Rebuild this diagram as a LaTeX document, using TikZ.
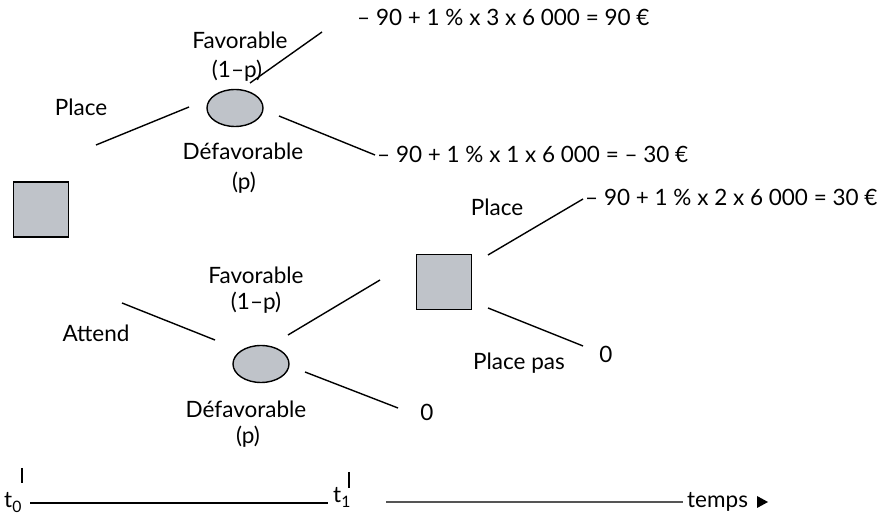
\documentclass[tikz,border=0pt]{standalone}
\usepackage{fontspec}
\setmainfont{Lato}
\definecolor{nodefill}{HTML}{BFC3C9}
\definecolor{axisgray}{HTML}{555555}
\tikzset{
  lbl/.style={font=\fontsize{22.5}{25}\selectfont, inner sep=0pt, anchor=base},
  lblw/.style={lbl, anchor=base west},
  branch/.style={line width=1.4pt, black},
  chance/.style={ellipse, draw=black, line width=1.4pt, fill=nodefill, minimum width=56pt, minimum height=37pt, inner sep=0pt},
  decision/.style={rectangle, draw=black, line width=1.6pt, fill=nodefill, minimum width=55pt, minimum height=55pt, inner sep=0pt},
}
\usetikzlibrary{shapes.geometric}
\begin{document}
\begin{tikzpicture}[x=1pt, y=-1pt]
\useasboundingbox (0,0) rectangle (887,518);
% decision and chance nodes
\node[decision] (S1) at (41,209.5) {};
\node[decision] (S2) at (444,282) {};
\node[chance] (E1) at (235,108) {};
\node[chance] (E2) at (261,364) {};
% branch end points
\coordinate (a1) at (96,145);   \coordinate (a2) at (189,107);
\coordinate (b1) at (250,83);   \coordinate (b2) at (322,32);
\coordinate (c1) at (279,116);  \coordinate (c2) at (375,155);
\coordinate (d1) at (122,303);  \coordinate (d2) at (215,340);
\coordinate (e1) at (288,335);  \coordinate (e2) at (380,280);
\coordinate (f1) at (305,372);  \coordinate (f2) at (398,408);
\coordinate (g1) at (488,255);  \coordinate (g2) at (583,199);
\coordinate (h1) at (488,308);  \coordinate (h2) at (583,346);
\draw[branch] (a1) -- (a2);
\draw[branch] (b1) -- (b2);
\draw[branch] (c1) -- (c2);
\draw[branch] (d1) -- (d2);
\draw[branch] (e1) -- (e2);
\draw[branch] (f1) -- (f2);
\draw[branch] (g1) -- (g2);
\draw[branch] (h1) -- (h2);
% labels
\node[lblw] (eq1) at (357,26) {– 90 + 1 \% x 3 x 6 000 = 90 €};
\node[lbl] (fav1) at (240,49) {Favorable};
\node[lbl] (fav1p) at (237,78) {(1–p)};
\node[lbl] (place1) at (81,116) {Place};
\node[lbl] (def1) at (243,160) {Défavorable};
\node[lbl] (def1p) at (244,190) {(p)};
\node[lblw] (eq2) at (377,163) {– 90 + 1 \% x 1 x 6 000 = – 30 €};
\node[lbl] (place2) at (497,216) {Place};
\node[lblw] (eq3) at (585,206) {– 90 + 1 \% x 2 x 6 000 = 30 €};
\node[lbl] (zero1) at (606,363) {0};
\node[lbl] (placepas) at (519,370) {Place pas};
\node[lbl] (fav2) at (256,284) {Favorable};
\node[lbl] (fav2p) at (256,310) {(1–p)};
\node[lbl] (attend) at (96,342) {Attend};
\node[lbl] (zero2) at (427,421) {0};
\node[lbl] (def2) at (246,418) {Défavorable};
\node[lbl] (def2p) at (248,444) {(p)};
% time axis
\node[lbl, anchor=base west] (t0) at (4,508) {t\textsubscript{0}};
\node[lbl, anchor=base west] (t1) at (333,503) {t\textsubscript{1}};
\coordinate (k0a) at (22,468); \coordinate (k0b) at (22,483);
\coordinate (k1a) at (349,472); \coordinate (k1b) at (349,488);
\draw[line width=2pt] (k0a) -- (k0b);
\draw[line width=2pt] (k1a) -- (k1b);
\coordinate (ax1) at (30,503); \coordinate (ax2) at (328,503);
\coordinate (ax3) at (386,502); \coordinate (ax4) at (683,502);
\draw[line width=1.2pt] (ax1) -- (ax2);
\draw[line width=1.8pt, axisgray] (ax3) -- (ax4);
\node[lbl, anchor=base west] (temps) at (687,508) {temps};
\fill (757,496) -- (768,502) -- (757,508) -- cycle;
\end{tikzpicture}
\end{document}
